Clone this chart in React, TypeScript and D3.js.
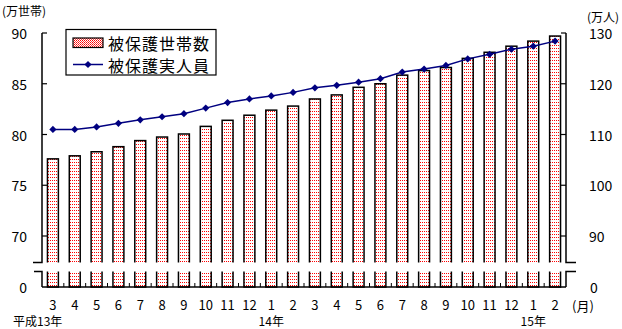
import React from "react";
import * as d3 from "d3";

const months = ["3","4","5","6","7","8","9","10","11","12","1","2","3","4","5","6","7","8","9","10","11","12","1","2"];
const households = [77.6,77.9,78.3,78.8,79.4,79.75,80.05,80.8,81.4,81.9,82.4,82.8,83.5,83.9,84.65,85.0,85.85,86.3,86.6,87.5,88.1,88.7,89.2,89.7];
const persons = [111.0,111.0,111.5,112.2,112.9,113.5,114.1,115.2,116.3,117.0,117.6,118.3,119.2,119.7,120.3,121.0,122.3,122.9,123.6,124.9,125.8,126.8,127.4,128.4];
const leftTicks = [90,85,80,75,70];
const rightTicks = [130,120,110,100,90];
const yearLabels = [
  { index: 0, text: "平成13年" },
  { index: 10, text: "14年" },
  { index: 22, text: "15年" },
];
const seriesNames = ["被保護世帯数", "被保護実人員"];

const W = 622, H = 329;
const X0 = 42, X1 = 566;
const BASE = 287;
const BREAK_TOP = 262.5, BREAK_BOT = 271.5;
const FONT = "'Noto Sans CJK JP', 'Noto Sans', sans-serif";
const NAVY = "#000080";

export default function App() {
  const idx = months.map((_, i) => i);
  const x = d3.scaleBand<number>().domain(idx).range([X0, X1]).paddingInner(0.5).paddingOuter(0.25);
  const yL = d3.scaleLinear().domain([70, 90]).range([236, 33]);
  const yR = d3.scaleLinear().domain([90, 130]).range([236, 33]);
  const step = x.step();
  const cx = (i: number) => (x(i) as number) + x.bandwidth() / 2;

  const line = d3.line<number>().x((_, i) => cx(i)).y((d) => yR(d));
  const marker = d3.symbol().type(d3.symbolSquare).size(26)();

  return (
    <svg width={W} height={H} style={{ position: "absolute", left: 0, top: 0, background: "#fff" }} fontFamily={FONT}>
      <defs>
        <pattern id="dots" width="2" height="3" patternUnits="userSpaceOnUse">
          <rect width="2" height="3" fill="#fff" />
          <rect width="1" height="1" fill="#ff0000" />
        </pattern>
        <pattern id="dots2" width="2" height="2" patternUnits="userSpaceOnUse">
          <rect width="2" height="2" fill="#fff" />
          <rect width="1" height="1" fill="#ff0000" />
          <rect x="1" y="1" width="1" height="1" fill="#ff4040" />
        </pattern>
      </defs>
      <rect width={W} height={H} fill="#fff" />

      {/* bars */}
      {households.map((v, i) => (
        <rect key={i} x={x(i)} y={yL(v)} width={x.bandwidth()} height={BASE - yL(v)}
          fill="url(#dots)" stroke="#000" strokeWidth={1.5} />
      ))}
      {/* break gap */}
      <rect x={X0 - 12} y={BREAK_TOP} width={X1 - X0 + 24} height={BREAK_BOT - BREAK_TOP} fill="#fff" />

      {/* left axis */}
      <path d={`M${X0},${yL(90)}V${BREAK_TOP}H${X0 - 9}`} fill="none" stroke="#000" strokeWidth={1.5} />
      <path d={`M${X0 - 8},${BREAK_BOT}H${X0}V${BASE}`} fill="none" stroke="#000" strokeWidth={1.5} />
      {leftTicks.map((t) => (
        <g key={t}>
          <line x1={X0} x2={X0 + 5} y1={yL(t)} y2={yL(t)} stroke="#000" strokeWidth={1.2} />
          <text x={27} y={yL(t)} textAnchor="end" dominantBaseline="central" fontSize={14}>{t}</text>
        </g>
      ))}
      <text x={27} y={BASE} textAnchor="end" dominantBaseline="central" fontSize={14}>0</text>

      {/* right axis */}
      <path d={`M${X1},${yR(130)}V${BREAK_TOP}H${X1 + 10}`} fill="none" stroke="#000" strokeWidth={1.5} />
      <path d={`M${X1 + 10},${BREAK_BOT}H${X1}V${BASE}`} fill="none" stroke="#000" strokeWidth={1.5} />
      {rightTicks.map((t) => (
        <g key={t}>
          <line x1={X1 - 5} x2={X1} y1={yR(t)} y2={yR(t)} stroke="#000" strokeWidth={1.2} />
          <text x={589} y={yR(t)} dominantBaseline="central" fontSize={14}>{t}</text>
        </g>
      ))}
      <text x={590} y={BASE} dominantBaseline="central" fontSize={14}>0</text>

      {/* baseline */}
      <line x1={X0} x2={X1} y1={BASE} y2={BASE} stroke="#000" strokeWidth={1.5} />
      {d3.range(1, months.length).map((k) => (
        <line key={k} x1={X0 + k * step} x2={X0 + k * step} y1={BASE - 4} y2={BASE} stroke="#000" strokeWidth={1} />
      ))}

      {/* line series */}
      <path d={line(persons) || ""} fill="none" stroke={NAVY} strokeWidth={1.5} />
      {persons.map((v, i) => (
        <path key={i} d={marker || ""} transform={`translate(${cx(i)},${yR(v)}) rotate(45)`} fill={NAVY} />
      ))}

      {/* month labels */}
      {months.map((m, i) => (
        <text key={i} x={cx(i)} y={304} textAnchor="middle" dominantBaseline="central" fontSize={13}>{m}</text>
      ))}
      {yearLabels.map((y) => (
        <text key={y.text} x={y.index === 0 ? 13 : cx(y.index)} y={320.5} textAnchor={y.index === 0 ? "start" : "middle"}
          dominantBaseline="central" fontSize={12}>{y.text}</text>
      ))}
      <text x={572} y={305} dominantBaseline="central" fontSize={13}>(月)</text>

      {/* units */}
      <text x={2} y={10} dominantBaseline="central" fontSize={12}>(万世帯)</text>
      <text x={587} y={16} dominantBaseline="central" fontSize={12}>(万人)</text>

      {/* legend */}
      <rect x={66} y={29.5} width={150} height={45.5} fill="#fff" stroke="#000" strokeWidth={1.2} />
      <rect x={73} y={38} width={30} height={9.5} fill="url(#dots2)" stroke="#000" strokeWidth={1.2} />
      <text x={108} y={42.5} dominantBaseline="central" fontSize={16} letterSpacing={1}>{seriesNames[0]}</text>
      <line x1={73} x2={103} y1={64.5} y2={64.5} stroke={NAVY} strokeWidth={1.5} />
      <path d={marker || ""} transform={`translate(88,64.5) rotate(45)`} fill={NAVY} />
      <text x={108} y={64.5} dominantBaseline="central" fontSize={16} letterSpacing={1}>{seriesNames[1]}</text>
    </svg>
  );
}
